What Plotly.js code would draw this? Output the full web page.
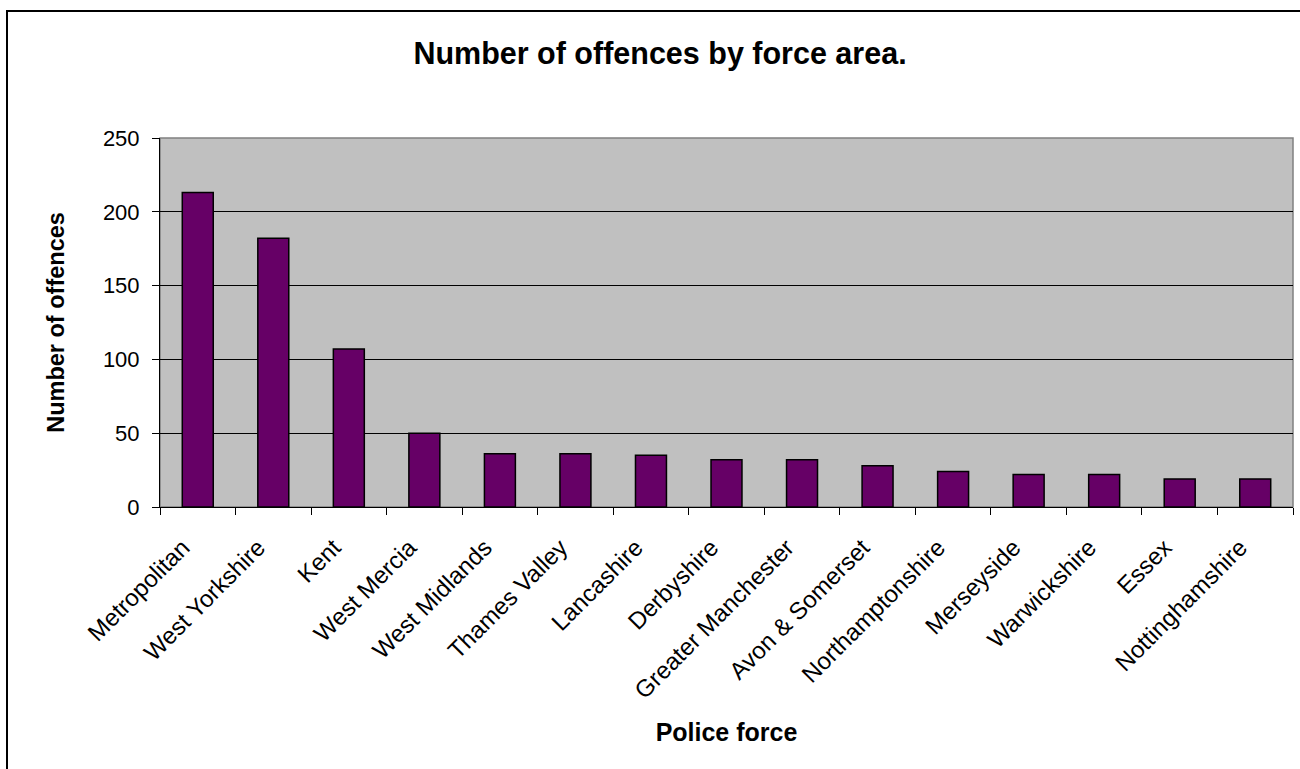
<!DOCTYPE html>
<html>
<head>
<meta charset="utf-8">
<script src="https://cdn.plot.ly/plotly-3.0.1.min.js"></script>
<style>
  html, body { margin: 0; padding: 0; background: #ffffff; }
  #chart { width: 1300px; height: 769px; }
</style>
</head>
<body>
<div id="chart"></div>
<script>
const forces = ["Metropolitan", "West Yorkshire", "Kent", "West Mercia", "West Midlands",
  "Thames Valley", "Lancashire", "Derbyshire", "Greater Manchester", "Avon & Somerset",
  "Northamptonshire", "Merseyside", "Warwickshire", "Essex", "Nottinghamshire"];
const offences = [213, 182, 107, 50, 36, 36, 35, 32, 32, 28, 24, 22, 22, 19, 19];
const yTicks = [0, 50, 100, 150, 200, 250];

const FONT = "Liberation Sans, Arial, sans-serif";

const trace = {
  type: "bar",
  x: forces,
  y: offences,
  marker: { color: "#660066", line: { color: "#000000", width: 1.5 } },
  hoverinfo: "x+y"
};

const layout = {
  width: 1300,
  height: 769,
  margin: { l: 160, r: 7, t: 138, b: 262 },
  paper_bgcolor: "#ffffff",
  plot_bgcolor: "#c0c0c0",
  showlegend: false,
  bargap: 0.59,
  font: { family: FONT, color: "#000000", size: 22 },
  title: {
    text: "<b>Number of offences by force area.</b>",
    font: { family: FONT, size: 30.5, color: "#000000" },
    xref: "container", x: 660 / 1300, xanchor: "center",
    yref: "container", y: 1 - 53 / 769, yanchor: "middle"
  },
  xaxis: {
    type: "category",
    tickangle: -45,
    tickfont: { family: FONT, size: 24, color: "#000000" },
    ticks: "outside",
    tickson: "boundaries",
    ticklen: 7,
    tickcolor: "#000000",
    tickwidth: 1,
    showline: true,
    linecolor: "#000000",
    linewidth: 1,
    showgrid: false,
    zeroline: false,
    ticklabelstandoff: 16,
    ticklabelshift: -15,
    automargin: false,
    title: {
      text: "<b>Police force</b>",
      font: { family: FONT, size: 25, color: "#000000" },
      standoff: 20
    }
  },
  yaxis: {
    range: [0, 250],
    tickvals: yTicks,
    ticktext: yTicks.map(String),
    tickfont: { family: FONT, size: 22, color: "#000000" },
    ticks: "outside",
    ticklen: 7,
    tickcolor: "#000000",
    tickwidth: 1,
    showline: true,
    linecolor: "#000000",
    linewidth: 1,
    showgrid: true,
    gridcolor: "#000000",
    gridwidth: 1,
    zeroline: false,
    ticklabelstandoff: 8,
    automargin: false,
    title: {
      text: "<b>Number of offences</b>",
      font: { family: FONT, size: 23.5, color: "#000000" },
      standoff: 31
    }
  },
  shapes: [
    {
      type: "rect", xref: "paper", yref: "paper",
      x0: 0, x1: 1, y0: 0, y1: 1,
      line: { color: "#808080", width: 1.5 }, fillcolor: "rgba(0,0,0,0)", layer: "below"
    },
    {
      type: "rect", xref: "paper", yref: "paper",
      x0: (7 - 160) / 1133, x1: (1320 - 160) / 1133,
      y0: (507 - 790) / 369, y1: (507 - 11) / 369,
      line: { color: "#000000", width: 2 }, fillcolor: "rgba(0,0,0,0)", layer: "above"
    }
  ]
};

Plotly.newPlot("chart", [trace], layout, { displayModeBar: false, staticPlot: true });
</script>
</body>
</html>
